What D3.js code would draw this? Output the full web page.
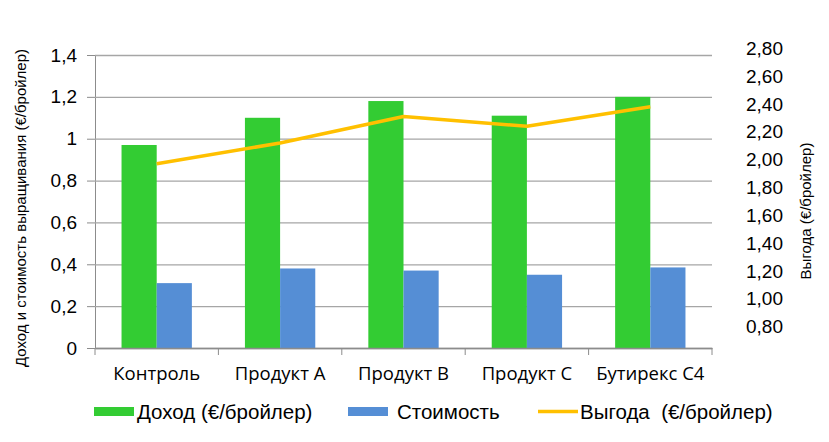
<!DOCTYPE html>
<html>
<head>
<meta charset="utf-8">
<script src="https://cdn.jsdelivr.net/npm/d3@7"></script>
<style>
  body { margin: 0; background: #fff; }
  text { font-family: "Liberation Sans", Arial, sans-serif; fill: #000; }
</style>
</head>
<body>
<svg id="chart" width="829" height="442"></svg>
<script>
const categories = ["Контроль", "Продукт A", "Продукт B", "Продукт C", "Бутирекс C4"]
const income = [0.97, 1.10, 1.18, 1.11, 1.20]
const cost = [0.31, 0.38, 0.37, 0.35, 0.385]
const profit = [1.97, 2.12, 2.31, 2.24, 2.38]
const leftTicks = [0, 0.2, 0.4, 0.6, 0.8, 1, 1.2, 1.4]
const rightTicks = [0.8, 1.0, 1.2, 1.4, 1.6, 1.8, 2.0, 2.2, 2.4, 2.6, 2.8]
const seriesNames = ["Доход (€/бройлер)", "Стоимость", "Выгода  (€/бройлер)"]
const colors = ["#33cc33", "#558ed5", "#ffc000"]

const plotLeft = 95, plotRight = 712, plotTop = 55, plotBottom = 348
const svg = d3.select("#chart")
const comma = s => s.replace(".", ",")

const x0 = d3.scaleBand().domain(categories).range([plotLeft, plotRight])
const bw = x0.bandwidth()
const x1 = d3.scaleBand().domain(["income", "cost"]).range([bw * 0.215, bw * 0.785])
const yL = d3.scaleLinear().domain([0, 1.4]).range([plotBottom, plotTop])
const yR = d3.scaleLinear().domain([0.8, 2.8]).range([326.7, 48.3])

// gridlines + left axis
const gy = svg.append("g").attr("transform", `translate(${plotLeft},0)`)
  .call(d3.axisLeft(yL).tickValues(leftTicks).tickFormat(d => comma(String(d))).tickSize(8).tickPadding(10))
gy.select(".domain").attr("stroke", "#8c8c8c")
gy.selectAll(".tick line").attr("stroke", "#8c8c8c")
gy.selectAll(".tick text").style("font-size", "19px").attr("fill", "#222")
gy.selectAll(".tick").append("line").attr("x1", 0).attr("x2", plotRight - plotLeft).attr("stroke", "#a6a6a6").attr("stroke-width", 1.3)

// bars
const g = svg.append("g")
categories.forEach((c, i) => {
  g.append("rect").attr("x", x0(c) + x1("income")).attr("width", x1.bandwidth())
    .attr("y", yL(income[i])).attr("height", yL(0) - yL(income[i])).attr("fill", colors[0])
  g.append("rect").attr("x", x0(c) + x1("cost")).attr("width", x1.bandwidth())
    .attr("y", yL(cost[i])).attr("height", yL(0) - yL(cost[i])).attr("fill", colors[1])
})

// bottom axis
const gx = svg.append("g").attr("transform", `translate(0,${plotBottom})`)
  .call(d3.axisBottom(x0).tickSize(0).tickPadding(19))
gx.select(".domain").attr("stroke", "#8c8c8c").attr("stroke-width", 1.3)
gx.selectAll(".tick text").style("font-size", "18.5px").style("font-family", "'Open Sans', sans-serif").attr("fill", "#111")
gx.selectAll(".bnd").data(categories.map(c => x0(c)).concat([plotRight])).join("line")
  .attr("x1", d => d).attr("x2", d => d).attr("y1", 0).attr("y2", 7).attr("stroke", "#8c8c8c")

// line
const line = d3.line().x((d, i) => x0(categories[i]) + bw / 2).y(d => yR(d))
svg.append("path").datum(profit).attr("d", line).attr("fill", "none")
  .attr("stroke", colors[2]).attr("stroke-width", 3.5).attr("stroke-linejoin", "round")

// right axis labels
const gr = svg.append("g").attr("transform", "translate(783,0)")
  .call(d3.axisLeft(yR).tickValues(rightTicks).tickFormat(d => comma(d3.format(".2f")(d))).tickSize(0).tickPadding(0))
gr.select(".domain").remove()
gr.selectAll(".tick text").style("font-size", "19px").attr("fill", "#222")

// axis titles
svg.append("text").attr("transform", "translate(26,208) rotate(-90)").attr("text-anchor", "middle")
  .style("font-size", "15px").text("Доход и стоимость выращивания (€/бройлер)")
svg.append("text").attr("transform", "translate(811,211) rotate(-90)").attr("text-anchor", "middle")
  .style("font-size", "15px").text("Выгода (€/бройлер)")

// legend
const lg = svg.append("g")
const lx = [94, 348, 538]
lx.forEach((x, i) => {
  if (i < 2) lg.append("rect").attr("x", x).attr("y", 407).attr("width", 40).attr("height", 9).attr("fill", colors[i])
  else lg.append("line").attr("x1", x).attr("x2", x + 40).attr("y1", 411.5).attr("y2", 411.5).attr("stroke", colors[i]).attr("stroke-width", 3.5)
  lg.append("text").attr("x", x + [43, 49, 42][i]).attr("y", 419)
    .style("font-size", "20.5px").style("white-space", "pre").attr("fill", "#111").text(seriesNames[i])
})
</script>
</body>
</html>
